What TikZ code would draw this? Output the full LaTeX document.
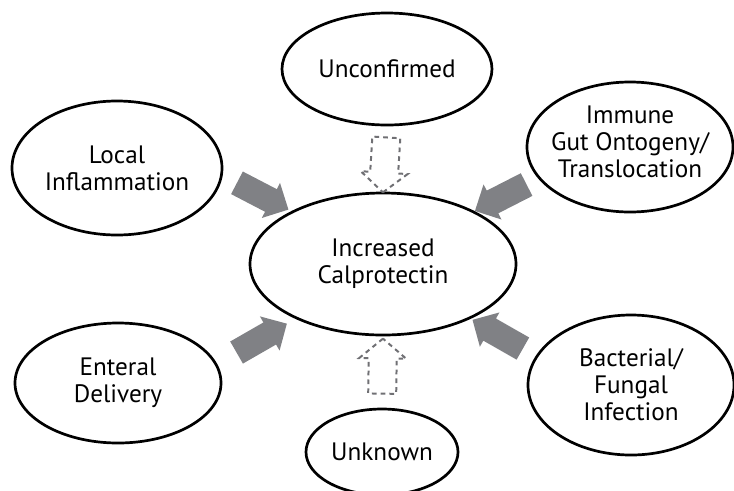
\documentclass[tikz,border=0pt]{standalone}
\usepackage{fontspec}
\setmainfont{PT Sans}
\definecolor{arrowgray}{RGB}{128,129,133}
\definecolor{dashgray}{RGB}{112,112,116}
\usetikzlibrary{shapes.geometric, shapes.arrows, calc}

\begin{document}
\begin{tikzpicture}[x=0.03cm, y=-0.03cm,
    oval/.style={draw, ellipse, line width=2.3pt, inner sep=0pt},
    txt/.style={align=center, font=\fontsize{21.5}{23}\selectfont},
    fatarrow/.style={single arrow, fill=arrowgray, inner sep=0.375cm, minimum height=1.74cm, single arrow head extend=0.21cm, midway, sloped, allow upside down},
    hollowarrow/.style={single arrow, draw=dashgray, dash pattern=on 4pt off 3.5pt, line width=1.7pt, inner sep=0.39cm, minimum height=1.65cm, single arrow head extend=0.285cm, single arrow tip angle=100, midway, sloped, allow upside down}]
    \useasboundingbox (0,0) rectangle (734,490);

    \node[oval, minimum width=7.98cm, minimum height=4.26cm] (calpro) at (383,264) {};
    \node[oval, minimum width=6.3cm, minimum height=3.36cm] (unconf) at (387,69) {};
    \node[oval, minimum width=6.3cm, minimum height=4.02cm] (local) at (117,168) {};
    \node[oval, minimum width=6.18cm, minimum height=3.9cm] (immune) at (630,147) {};
    \node[oval, minimum width=6.18cm, minimum height=3.6cm] (enteral) at (118,383) {};
    \node[oval, minimum width=6.18cm, minimum height=4.2cm] (bact) at (631,385) {};
    \node[oval, minimum width=4.56cm, minimum height=2.58cm] (unknown) at (382,452) {};

    \node[txt] (calprotxt) at (calpro) {Increased\\Calprotectin};
    \node[txt] (unconftxt) at (unconf) {Unconfirmed};
    \node[txt] (localtxt) at (local) {Local\\Inflammation};
    \node[txt] (immunetxt) at ($(immune)+(0,-5)$) {Immune\\Gut Ontogeny/\\Translocation};
    \node[txt] (enteraltxt) at (enteral) {Enteral\\Delivery};
    \node[txt] (bacttxt) at (bact) {Bacterial/\\Fungal\\Infection};
    \node[txt] (unknowntxt) at (unknown) {Unknown};

    \path (local.-4) -- node[fatarrow] (a1) {} (calpro.150);
    \path (immune.199) -- node[fatarrow] (a2) {} (calpro.30);
    \path (enteral.11) -- node[fatarrow] (a3) {} (calpro.212);
    \path (bact.163) -- node[fatarrow] (a4) {} (calpro.328);
    \path (unconf.south) -- node[hollowarrow] (a5) {} (calpro.north);
    \path (unknown.north) -- node[hollowarrow] (a6) {} (calpro.south);
\end{tikzpicture}
\end{document}
